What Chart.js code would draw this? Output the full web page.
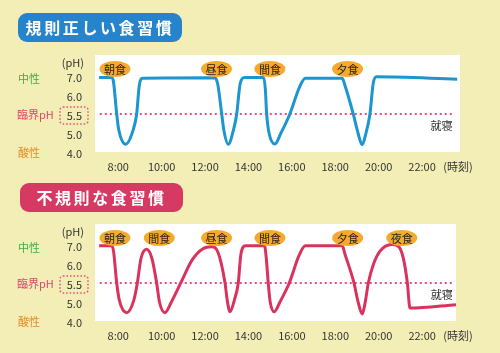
<!DOCTYPE html>
<html lang="ja">
<head>
  <meta charset="UTF-8" />
  <title>規則正しい食習慣 / 不規則な食習慣</title>
  <script src="https://cdn.jsdelivr.net/npm/chart.js"></script>
  <style>
    * { box-sizing: border-box; margin: 0; padding: 0; }

    body {
      width: 500px;
      height: 353px;
      background: #f2eeb6;
      position: relative;
      overflow: hidden;
      font-family: 'Noto Sans CJK JP', sans-serif;
    }

    .box {
      position: absolute;
      left: 0;
      width: 500px;
      height: 176px;
    }
    #box1 { top: 0; }
    #box2 { top: 169px; }

    .badge {
      position: absolute;
      height: 29px;
      border-radius: 9px;
      color: #fff;
      font-weight: bold;
      font-size: 16px;
      letter-spacing: 2.6px;
      line-height: 29px;
      text-align: center;
      z-index: 2;
    }
    #badge1 { left: 18px; top: 13px; width: 164px; background: #2684cc; }
    #badge2 { left: 20px; top: 183px; width: 163px; background: #d63a62; }
  </style>
</head>
<body>

  <div class="box" id="box1"><canvas id="regularChart"></canvas></div>
  <div class="box" id="box2"><canvas id="irregularChart"></canvas></div>
  <div class="badge" id="badge1">規則正しい食習慣</div>
  <div class="badge" id="badge2">不規則な食習慣</div>

  <script>
    // axis ticks
    const hourTicks = [8, 10, 12, 14, 16, 18, 20, 22];
    const phTicks = [4.0, 5.0, 5.5, 6.0, 7.0];
    const criticalPh = 5.5;

    // 規則正しい食習慣 (hour, pH)
    const regularHours = [7.12, 7.68, 7.78, 7.93, 8.02, 8.35, 8.70, 8.85, 8.97, 9.12,
      12.45, 12.58, 12.77, 12.86, 13.07, 13.32, 13.46, 13.62, 13.82,
      14.70, 14.78, 14.84, 14.95, 15.22, 15.50, 15.91, 16.35, 16.62,
      18.32, 18.45, 18.83, 19.05, 19.24, 19.42, 19.60, 19.75, 19.90, 23.62];
    const regularPh = [6.92, 6.92, 6.70, 5.50, 5.10, 4.41, 5.10, 5.50, 6.50, 6.88,
      6.90, 6.60, 5.50, 5.10, 4.41, 5.10, 5.50, 6.60, 6.92,
      6.92, 6.30, 5.50, 5.00, 4.42, 5.00, 5.50, 6.40, 6.88,
      6.88, 6.50, 5.50, 5.00, 4.38, 5.00, 5.50, 6.60, 6.95, 6.83];
    const regularMeals = ['朝食', '昼食', '間食', '夕食'];
    const regularMealHours = [7.85, 12.53, 14.99, 18.57];

    // 不規則な食習慣 (hour, pH)
    const irregularHours = [7.12, 7.68, 7.78, 7.93, 8.05, 8.39, 8.72, 8.88, 9.05, 9.31,
      9.55, 9.77, 9.90, 10.15, 10.45, 10.88, 11.40, 11.90, 12.30,
      12.60, 12.92, 13.02, 13.15, 13.35, 13.53, 13.65, 13.86,
      14.74, 14.82, 14.91, 15.00, 15.19, 15.45, 15.88, 16.35, 16.62,
      18.32, 18.45, 18.86, 19.05, 19.24, 19.38, 19.52, 19.75, 20.06, 20.60,
      20.90, 21.13, 21.32, 21.44, 23.56];
    const irregularPh = [6.95, 6.95, 6.70, 5.50, 5.05, 4.44, 5.05, 5.50, 6.30, 6.77,
      6.30, 5.50, 5.00, 4.44, 5.00, 5.50, 6.20, 6.80, 6.90,
      6.60, 5.50, 5.05, 4.49, 5.05, 5.50, 6.50, 6.95,
      6.95, 6.30, 5.50, 5.00, 4.49, 5.00, 5.50, 6.50, 6.95,
      6.95, 6.50, 5.50, 5.00, 4.37, 5.00, 5.50, 5.98, 6.67, 7.02,
      6.93, 6.32, 5.50, 4.68, 4.86];
    const irregularMeals = ['朝食', '間食', '昼食', '間食', '夕食', '夜食'];
    const irregularMealHours = [7.85, 9.89, 12.53, 14.99, 18.57, 21.06];

    const bedtimeHour = 22.9;
    const font = "'Noto Sans CJK JP', sans-serif";

    // the pH axis has evenly spaced ticks 4.0 / 5.0 / 5.5 / 6.0 / 7.0
    function toLevel(ph) {
      let i = 0;
      while (i < phTicks.length - 2 && ph > phTicks[i + 1]) i++;
      return i + (ph - phTicks[i]) / (phTicks[i + 1] - phTicks[i]);
    }

    const decorPlugin = {
      id: 'decor',
      beforeDraw(chart) {
        const { ctx, chartArea: a } = chart;
        ctx.save();
        ctx.fillStyle = '#fff';
        ctx.fillRect(a.left, a.top, a.right - a.left, a.bottom - a.top);
        ctx.restore();
      },
      afterDatasetsDraw(chart, args, opts) {
        const { ctx, chartArea: a, scales: { x, y } } = chart;
        ctx.save();
        // meal tags
        opts.meals.forEach((m, i) => {
          const cx = x.getPixelForValue(opts.mealHours[i]);
          const cy = a.top + 14;
          ctx.fillStyle = '#f6aa2b';
          ctx.beginPath();
          ctx.ellipse(cx, cy, 15.5, 8, 0, 0, Math.PI * 2);
          ctx.fill();
          ctx.fillStyle = '#2a2218';
          ctx.font = '11px ' + font;
          ctx.textAlign = 'center';
          ctx.textBaseline = 'middle';
          ctx.fillText(m, cx, cy + 0.5);
        });
        // 就寝
        ctx.fillStyle = '#333';
        ctx.font = '11px ' + font;
        ctx.textAlign = 'center';
        ctx.textBaseline = 'middle';
        ctx.fillText('就寝', x.getPixelForValue(bedtimeHour), y.getPixelForValue(toLevel(5.19)));
        ctx.restore();
      },
      afterDraw(chart) {
        const { ctx, chartArea: a, scales: { y } } = chart;
        ctx.save();
        ctx.textBaseline = 'middle';
        ctx.font = '11px ' + font;
        ctx.textAlign = 'left';
        ctx.fillStyle = '#45aa47';
        ctx.fillText('中性', 18, y.getPixelForValue(toLevel(7.0)) + 3);
        ctx.fillStyle = '#e2466f';
        ctx.fillText('臨界pH', 17, y.getPixelForValue(toLevel(criticalPh)) + 1);
        ctx.fillStyle = '#e38d25';
        ctx.fillText('酸性', 18, y.getPixelForValue(toLevel(4.0)) + 1);

        ctx.fillStyle = '#333';
        ctx.textAlign = 'right';
        ctx.fillText('(pH)', 84, a.top + 8);
        ctx.textAlign = 'center';
        ctx.fillText('(時刻)', 458, a.bottom + 15);

        // dotted frame round 5.5
        const py = y.getPixelForValue(toLevel(criticalPh));
        ctx.strokeStyle = '#ec4a86';
        ctx.lineWidth = 1.5;
        ctx.setLineDash([1.5, 2]);
        ctx.beginPath();
        ctx.roundRect(60, py - 7, 28, 17, 3);
        ctx.stroke();
        ctx.restore();
      }
    };

    function makeChart(id, hours, ph, color, meals, mealHours, xMax, padRight) {
      return new Chart(document.getElementById(id), {
        type: 'line',
        data: {
          datasets: [{
            data: hours.map((h, i) => ({ x: h, y: toLevel(ph[i]) })),
            borderColor: color,
            borderWidth: 3,
            pointRadius: 0,
            cubicInterpolationMode: 'monotone',
            tension: 0.4,
            fill: false
          }, {
            data: [{ x: 7.15, y: toLevel(criticalPh) }, { x: 23.4, y: toLevel(criticalPh) }],
            borderColor: '#ec4a86',
            borderWidth: 2,
            borderDash: [2, 3],
            pointRadius: 0,
            fill: false
          }]
        },
        options: {
          responsive: true,
          maintainAspectRatio: false,
          animation: false,
          layout: { padding: { left: 0, right: padRight, top: 55, bottom: 0 } },
          plugins: {
            legend: { display: false },
            tooltip: { enabled: false },
            decor: { meals: meals, mealHours: mealHours }
          },
          scales: {
            x: {
              type: 'linear',
              min: 6.93,
              max: xMax,
              grid: { display: false, drawTicks: false },
              border: { display: false },
              afterBuildTicks: s => { s.ticks = hourTicks.map(v => ({ value: v })); },
              afterFit: s => { s.height = 24; },
              ticks: {
                padding: 8,
                autoSkip: false,
                maxRotation: 0,
                color: '#333',
                font: { family: font, size: 11 },
                callback: v => v + ':00'
              }
            },
            y: {
              type: 'linear',
              min: 0,
              max: 5.1,
              grid: { display: false, drawTicks: false },
              border: { display: false },
              afterBuildTicks: s => { s.ticks = phTicks.map(p => ({ value: toLevel(p) })); },
              afterFit: s => { s.width = 95; },
              ticks: {
                padding: 13,
                labelOffset: 1.5,
                color: '#333',
                font: { family: font, size: 11 },
                callback: (v, i) => phTicks[i].toFixed(1)
              }
            }
          }
        },
        plugins: [decorPlugin]
      });
    }

    makeChart('regularChart', regularHours, regularPh, '#1b96cf',
      regularMeals, regularMealHours, 23.75, 40);
    makeChart('irregularChart', irregularHours, irregularPh, '#d7335c',
      irregularMeals, irregularMealHours, 23.56, 44);
  </script>

</body>
</html>
